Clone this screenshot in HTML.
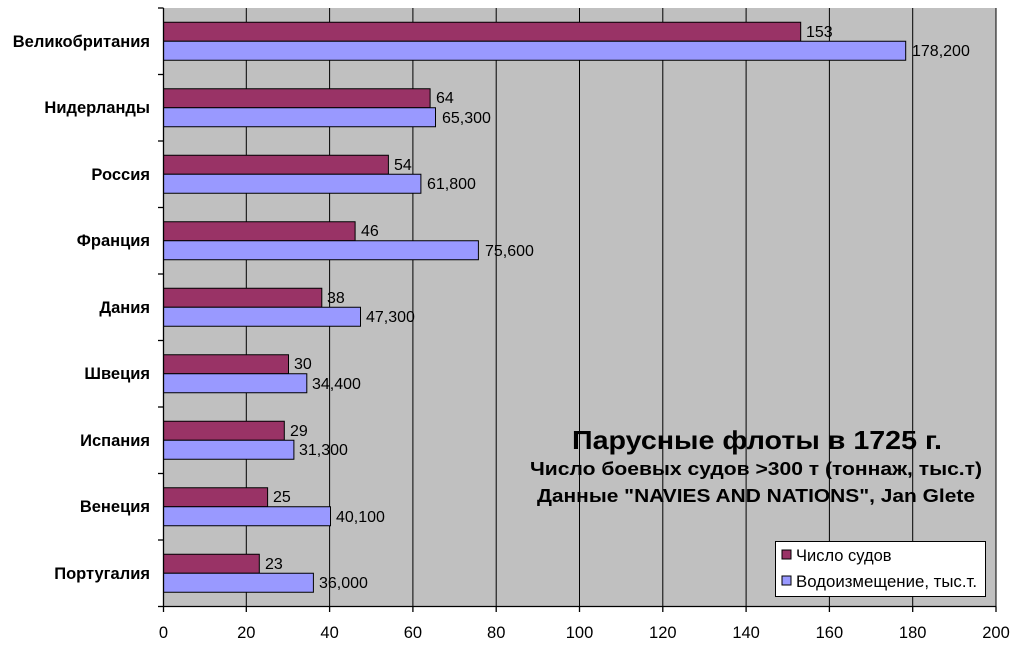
<!DOCTYPE html>
<html><head><meta charset="utf-8"><style>
body{margin:0;background:#fff}
svg{display:block;font-family:"Liberation Sans",Arial,sans-serif}
</style></head><body>
<svg width="1010" height="653" viewBox="0 0 1010 653">
<rect x="163.5" y="8" width="833" height="598.5" fill="#c0c0c0"/>
<g stroke="#000" stroke-width="1">
<line x1="246.3" y1="8" x2="246.3" y2="606.5"/><line x1="329.6" y1="8" x2="329.6" y2="606.5"/>
<line x1="412.9" y1="8" x2="412.9" y2="606.5"/><line x1="496.2" y1="8" x2="496.2" y2="606.5"/>
<line x1="579.5" y1="8" x2="579.5" y2="606.5"/><line x1="662.8" y1="8" x2="662.8" y2="606.5"/>
<line x1="746.1" y1="8" x2="746.1" y2="606.5"/><line x1="829.4" y1="8" x2="829.4" y2="606.5"/>
<line x1="912.7" y1="8" x2="912.7" y2="606.5"/><line x1="996" y1="8" x2="996" y2="606.5"/>
</g>
<g stroke="#000" stroke-width="1">
<rect x="163.5" y="22.25" width="637.2" height="19" fill="#993366"/><rect x="163.5" y="41.25" width="742.2" height="19" fill="#9999ff"/>
<rect x="163.5" y="88.75" width="266.6" height="19" fill="#993366"/><rect x="163.5" y="107.75" width="272" height="19" fill="#9999ff"/>
<rect x="163.5" y="155.25" width="224.9" height="19" fill="#993366"/><rect x="163.5" y="174.25" width="257.4" height="19" fill="#9999ff"/>
<rect x="163.5" y="221.75" width="191.6" height="19" fill="#993366"/><rect x="163.5" y="240.75" width="314.9" height="19" fill="#9999ff"/>
<rect x="163.5" y="288.25" width="158.3" height="19" fill="#993366"/><rect x="163.5" y="307.25" width="197" height="19" fill="#9999ff"/>
<rect x="163.5" y="354.75" width="125" height="19" fill="#993366"/><rect x="163.5" y="373.75" width="143.3" height="19" fill="#9999ff"/>
<rect x="163.5" y="421.25" width="120.8" height="19" fill="#993366"/><rect x="163.5" y="440.25" width="130.4" height="19" fill="#9999ff"/>
<rect x="163.5" y="487.75" width="104.1" height="19" fill="#993366"/><rect x="163.5" y="506.75" width="167" height="19" fill="#9999ff"/>
<rect x="163.5" y="554.25" width="95.8" height="19" fill="#993366"/><rect x="163.5" y="573.25" width="149.9" height="19" fill="#9999ff"/>
</g>
<g font-size="16" fill="#000">
<text x="806" y="37">153</text><text x="912" y="56">178,200</text>
<text x="436" y="103">64</text><text x="442" y="123">65,300</text>
<text x="394" y="170">54</text><text x="427" y="189">61,800</text>
<text x="361" y="236">46</text><text x="485" y="256">75,600</text>
<text x="327" y="303">38</text><text x="366" y="322">47,300</text>
<text x="294" y="369">30</text><text x="312" y="389">34,400</text>
<text x="290" y="436">29</text><text x="299" y="455">31,300</text>
<text x="273" y="502">25</text><text x="336" y="522">40,100</text>
<text x="265" y="569">23</text><text x="319" y="588">36,000</text>
</g>
<g stroke="#000" stroke-width="1.3">
<line x1="163.5" y1="8" x2="163.5" y2="606.5"/><line x1="163.5" y1="606.5" x2="996" y2="606.5"/>
<line x1="158" y1="8" x2="163.5" y2="8"/><line x1="158" y1="74.5" x2="163.5" y2="74.5"/><line x1="158" y1="141" x2="163.5" y2="141"/>
<line x1="158" y1="207.5" x2="163.5" y2="207.5"/><line x1="158" y1="274" x2="163.5" y2="274"/><line x1="158" y1="340.5" x2="163.5" y2="340.5"/>
<line x1="158" y1="407" x2="163.5" y2="407"/><line x1="158" y1="473.5" x2="163.5" y2="473.5"/><line x1="158" y1="540" x2="163.5" y2="540"/>
<line x1="158" y1="606.5" x2="163.5" y2="606.5"/>
<line x1="163.5" y1="606.5" x2="163.5" y2="612"/><line x1="246.3" y1="606.5" x2="246.3" y2="612"/><line x1="329.6" y1="606.5" x2="329.6" y2="612"/>
<line x1="412.9" y1="606.5" x2="412.9" y2="612"/><line x1="496.2" y1="606.5" x2="496.2" y2="612"/><line x1="579.5" y1="606.5" x2="579.5" y2="612"/>
<line x1="662.8" y1="606.5" x2="662.8" y2="612"/><line x1="746.1" y1="606.5" x2="746.1" y2="612"/><line x1="829.4" y1="606.5" x2="829.4" y2="612"/>
<line x1="912.7" y1="606.5" x2="912.7" y2="612"/><line x1="996" y1="606.5" x2="996" y2="612"/>
</g>
<g font-size="16.5" text-anchor="middle">
<text x="163.5" y="638">0</text><text x="246.3" y="638">20</text><text x="329.6" y="638">40</text><text x="412.9" y="638">60</text>
<text x="496.2" y="638">80</text><text x="579.5" y="638">100</text><text x="662.8" y="638">120</text><text x="746.1" y="638">140</text>
<text x="829.4" y="638">160</text><text x="912.7" y="638">180</text><text x="996" y="638">200</text>
</g>
<g font-size="16.5" font-weight="bold" text-anchor="end">
<text x="150" y="47">Великобритания</text><text x="150" y="113">Нидерланды</text><text x="150" y="180">Россия</text>
<text x="150" y="246">Франция</text><text x="150" y="313">Дания</text><text x="150" y="379">Швеция</text>
<text x="150" y="446">Испания</text><text x="150" y="512">Венеция</text><text x="150" y="579">Португалия</text>
</g>
<g font-weight="bold">
<text x="572" y="449" font-size="26" textLength="370" lengthAdjust="spacingAndGlyphs">Парусные флоты в 1725 г.</text>
<text x="530" y="475" font-size="18" textLength="452" lengthAdjust="spacingAndGlyphs">Число боевых судов &gt;300 т (тоннаж, тыс.т)</text>
<text x="537" y="502" font-size="18" textLength="438" lengthAdjust="spacingAndGlyphs">Данные "NAVIES AND NATIONS", Jan Glete</text>
</g>
<rect x="775.5" y="541.5" width="210" height="55" fill="#fff" stroke="#000"/>
<rect x="782" y="550" width="9" height="9" fill="#993366" stroke="#000"/>
<rect x="782" y="576" width="9" height="9" fill="#9999ff" stroke="#000"/>
<g font-size="16.5"><text x="796" y="561">Число судов</text><text x="796" y="587" textLength="181" lengthAdjust="spacingAndGlyphs">Водоизмещение, тыс.т.</text></g>
</svg>
</body></html>
